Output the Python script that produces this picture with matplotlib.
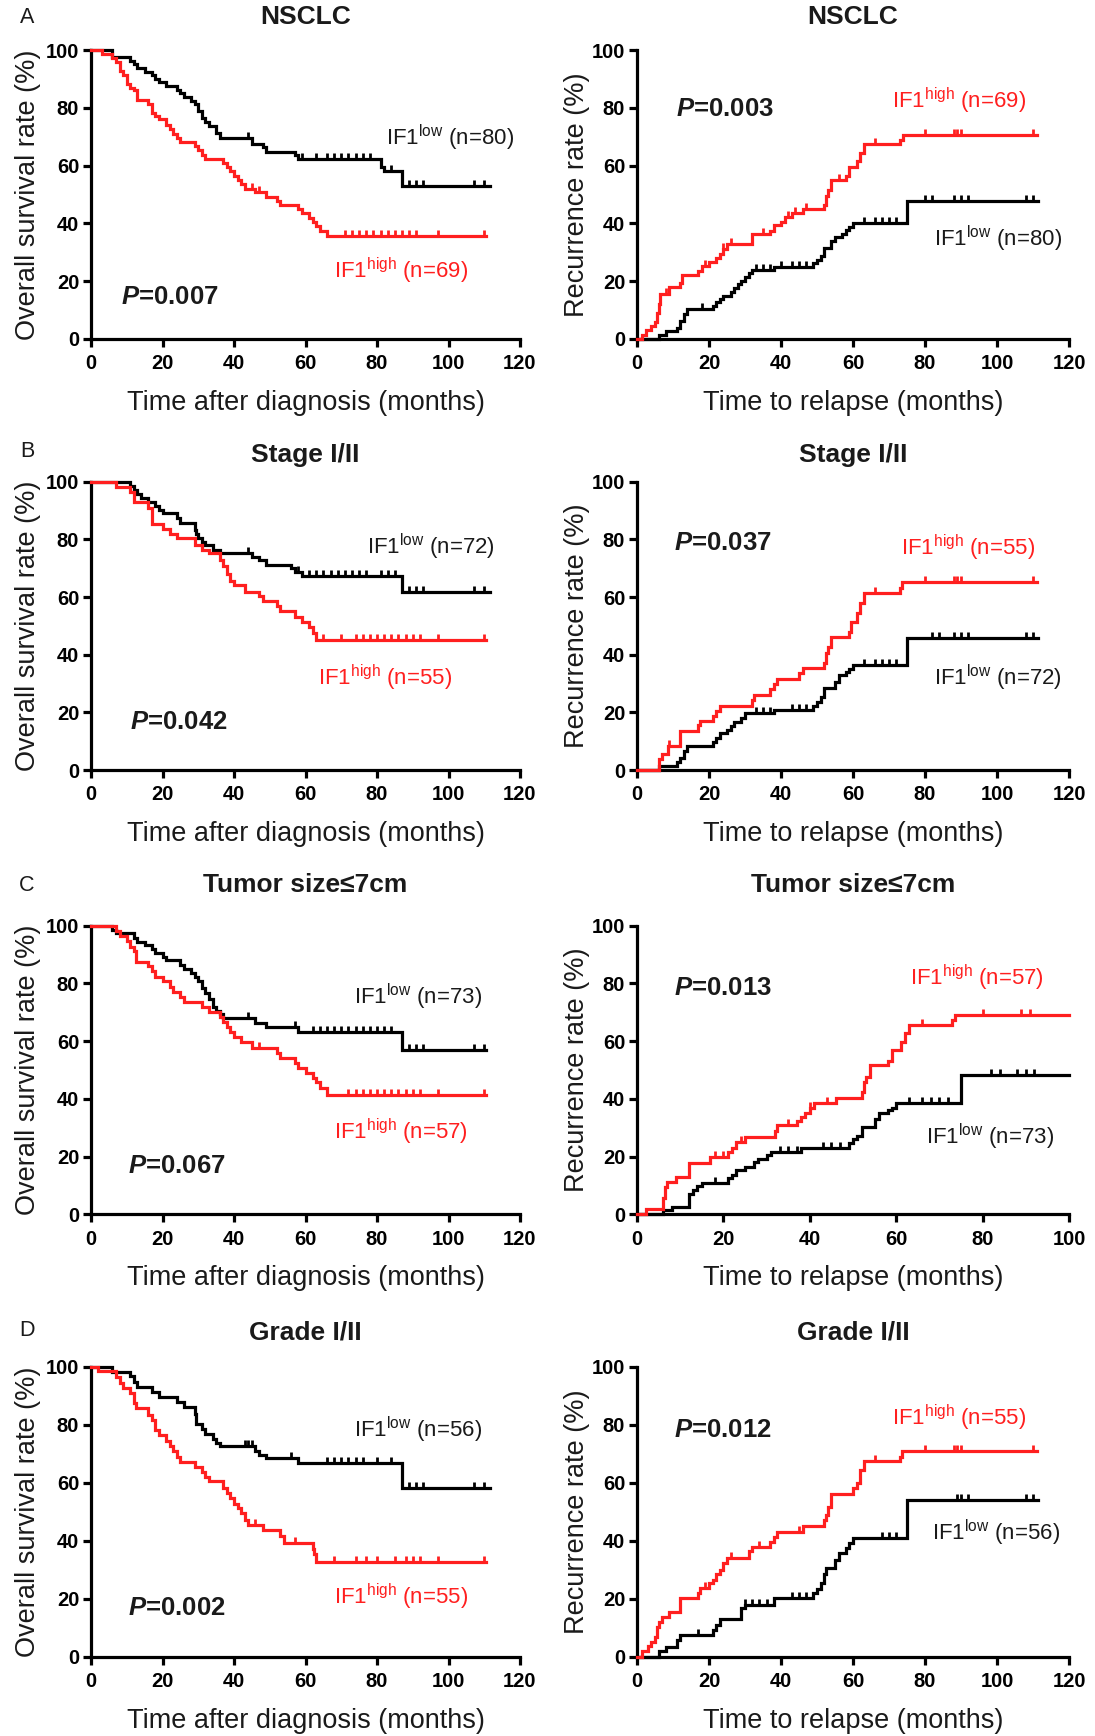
import numpy as np
import matplotlib
matplotlib.use('Agg')
import matplotlib.pyplot as plt

# ---------------- data ----------------
# Row A: NSCLC
A_os_low_t = [6, 11, 12, 13, 15, 17, 18, 19, 21, 24, 25, 26, 28, 29, 30, 31, 32, 33, 35, 36, 45, 48, 49, 57, 58, 81, 82, 87]
A_os_low_v = [97.5, 96.3, 95, 93.8, 92.5, 91.3, 90, 88.8, 87.5, 86.3, 85, 83.8, 82.5, 81.3, 78.8, 76.3, 75, 73.8, 71.3, 69.5, 67.5, 66.3, 64.8, 63.8, 62.2, 59.5, 58, 53]
A_os_low_c = [44, 59, 63, 66, 68, 70, 72, 74, 76, 78, 84, 89, 91, 93, 107, 110]
A_os_low_end = 111.5
A_os_high_t = [3, 6, 7, 8, 9, 10, 11, 12, 13, 16, 17, 18, 19, 21, 22, 23, 24, 25, 29, 30, 31, 32, 37, 38, 39, 40, 41, 42, 43, 46, 49, 52, 53, 58, 59, 61, 62, 63, 64, 66]
A_os_high_v = [98.6, 97.1, 95.7, 92.8, 91.3, 88.4, 87, 86, 82.6, 81.2, 78.3, 77, 76, 74.2, 72.5, 71, 69.6, 68, 66.7, 65.5, 63.8, 62.3, 61, 59.4, 58, 56.5, 55, 53.5, 52, 50.7, 49.3, 47.8, 46.4, 45, 43.5, 42, 40.6, 39, 37.5, 35.5]
A_os_high_c = [45, 47, 71, 73, 75, 77, 79, 81, 83, 85, 87, 89, 91, 97, 110]
A_os_high_end = 110.5

A_rec_high_t = [1.5, 2.5, 4, 5, 5.5, 6, 6.5, 9, 12, 12.5, 17, 18, 20, 22, 23, 24, 25, 32, 37, 38, 40, 41, 43, 46, 52, 52.5, 53, 54, 58, 59, 61, 62, 63, 73, 74]
A_rec_high_v = [1.5, 3, 4.5, 6, 9, 12, 15.5, 18, 19.5, 22, 23.6, 25.4, 26.5, 28, 29.5, 31, 33, 36.3, 37.5, 39.5, 40.5, 42.3, 43.5, 45, 46.5, 49.5, 51.5, 55, 56.5, 59.5, 61.5, 64.5, 67.5, 69, 70.5]
A_rec_high_c = [8, 19, 24, 26, 35, 42, 44, 47, 56, 66, 80, 88, 89, 90, 110]
A_rec_high_end = 111
A_rec_low_t = [6, 8, 11, 12, 13, 14, 21, 22, 23, 24, 26, 27, 28, 29, 30, 31, 32, 38, 49, 50, 51, 52, 54, 55, 57, 58, 59, 60, 75]
A_rec_low_v = [1.3, 2.7, 3.8, 6.3, 8.7, 10.4, 11.5, 12.7, 13.8, 15, 16.3, 17.8, 19, 20.2, 21.5, 22.7, 23.9, 25, 26.3, 27.5, 28.8, 31.5, 33.8, 35.4, 36.5, 37.7, 38.9, 40, 47.9]
A_rec_low_c = [18, 33, 35, 37, 40, 43, 45, 47, 63, 66, 68, 70, 72, 80, 82, 88, 90, 92, 108, 110]
A_rec_low_end = 111.5

# Row B: Stage I/II
B_os_low_t = [11, 12, 13, 14, 16, 18, 19, 20, 24, 25, 29, 29.5, 30, 31, 32, 34, 36, 45, 47, 49, 56, 57, 59, 87]
B_os_low_v = [98.6, 97.2, 95.8, 94.4, 93, 91.7, 90.3, 89, 87.5, 85.8, 83.3, 81.9, 80.5, 79.2, 78, 76.4, 75.3, 74, 72.8, 71.1, 70, 68.8, 67.4, 61.6]
B_os_low_c = [44, 58, 61, 63, 65, 67, 69, 71, 73, 75, 77, 81, 83, 85, 89, 91, 93, 107, 110]
B_os_low_end = 111.5
B_os_high_t = [7, 11, 12, 16, 17, 20, 22, 24, 29, 31, 33, 36, 37, 38, 39, 40, 43, 47, 48, 52, 53, 57, 59, 61, 62, 63]
B_os_high_v = [98.2, 96.4, 93, 90.9, 85.5, 83.6, 81.8, 80.3, 78.2, 76.4, 75.1, 72.7, 70.9, 67.9, 65.5, 64, 61.8, 60.5, 58.5, 57, 55, 53.2, 51.5, 49.7, 47.5, 45]
B_os_high_c = [65, 70, 74, 76, 78, 80, 82, 84, 86, 88, 90, 92, 97, 110]
B_os_high_end = 110.5

B_rec_high_t = [6, 7, 8.5, 12, 17, 17.5, 21, 22, 23, 32, 32.5, 37, 38, 39, 45, 46, 52, 52.5, 53, 54, 59, 59.5, 61, 62, 63, 73, 73.5]
B_rec_high_v = [3.8, 5.6, 8.3, 13.5, 15.5, 17, 18.7, 20.4, 22.3, 24.2, 26, 28, 29.8, 31.7, 33.5, 35.3, 37.2, 40.7, 42.5, 46.2, 48, 51.5, 54.5, 58, 61.3, 63.3, 65.2]
B_rec_high_c = [9, 66, 80, 88, 89, 90, 110]
B_rec_high_end = 111
B_rec_low_t = [6, 11, 12, 13, 14, 21, 22, 23, 25, 26, 27, 29, 30, 38, 49, 50, 51, 52, 55, 56, 58, 59, 60, 75]
B_rec_low_v = [1.4, 2.8, 4.2, 6.5, 8.3, 9.7, 11.1, 12.7, 13.9, 15.3, 16.7, 18.1, 19.7, 20.8, 22.2, 23.6, 25.2, 28.3, 30.6, 32.9, 34, 35.2, 36.4, 45.8]
B_rec_low_c = [33, 35, 37, 43, 45, 47, 63, 66, 68, 70, 72, 82, 84, 88, 90, 92, 108, 110]
B_rec_low_end = 111.5

# Row C: Tumor size <=7cm
C_os_low_t = [6, 7, 12, 13, 15, 17, 18, 20, 21, 25, 26, 28, 29, 30, 31, 32, 33, 34, 35, 36, 37, 46, 49, 58, 87]
C_os_low_v = [98.6, 97.3, 95.9, 94.5, 93.2, 91.8, 90.4, 89, 88, 86.3, 84.9, 83.5, 82.2, 80.8, 78.5, 76.6, 74.5, 72, 70.5, 69.4, 67.9, 66.4, 65, 63.3, 56.9]
C_os_low_c = [44, 57, 62, 64, 66, 68, 70, 72, 74, 76, 78, 80, 82, 84, 89, 91, 93, 107, 110]
C_os_low_end = 110.5
C_os_high_t = [7, 8, 10, 11, 12, 12.5, 16, 17, 18, 20, 22, 23, 25, 26, 31, 33, 36, 37, 38, 39, 40, 42, 45, 52, 53, 57, 58, 60, 62, 63, 64, 66]
C_os_high_v = [98.2, 96.3, 94.7, 92.7, 91.2, 87.5, 86, 84.2, 82.3, 80.7, 78.9, 77.1, 75.4, 73.6, 71.9, 70.2, 68.4, 66.7, 64.9, 63.2, 61.5, 59.8, 57.5, 56, 54, 52.5, 50.6, 49, 47.4, 45.9, 43.9, 41.3]
C_os_high_c = [47, 72, 74, 76, 78, 80, 82, 84, 86, 88, 90, 92, 97, 110]
C_os_high_end = 110.5

C_rec_high_t = [2, 6, 6.5, 7, 9, 12, 17, 21, 22, 23, 25, 32, 32.5, 37, 38, 39, 40, 41, 46, 52, 52.5, 53, 54, 58, 59, 61, 62, 63, 73, 73.5]
C_rec_high_v = [1.8, 5.5, 9.6, 11.3, 13, 17.9, 20, 21.5, 23, 25, 26.9, 29, 31, 32.2, 33.8, 35.2, 36.7, 38.4, 40.2, 42.5, 46, 47.5, 51.7, 53.2, 56.9, 59.8, 62.7, 65.6, 67.3, 69]
C_rec_high_c = [18, 20, 24, 35, 40, 44, 66, 80, 89, 91]
C_rec_high_end = 100
C_rec_low_t = [6, 8, 12, 13, 14, 15, 21, 22, 23, 25, 27, 28, 30, 31, 38, 49, 50, 51, 52, 55, 56, 58, 59, 60, 75]
C_rec_low_v = [1.4, 2.7, 6.9, 8.4, 9.8, 10.7, 12.5, 13.7, 15.4, 16.4, 18.2, 19.2, 20.6, 21.7, 22.9, 24.7, 26, 27, 30.4, 32.9, 35, 36, 37, 38.5, 48.3]
C_rec_low_c = [18, 33, 35, 37, 43, 45, 47, 63, 66, 68, 70, 72, 82, 84, 88, 90, 92]
C_rec_low_end = 100

# Row D: Grade I/II
D_os_low_t = [6, 11, 12, 13, 17, 19, 24, 26, 29, 29.5, 31, 32, 34, 35, 36, 46, 47, 49, 58, 87]
D_os_low_v = [98.4, 96.8, 94.8, 93.1, 91.3, 89.6, 87.8, 86.2, 83.9, 80.3, 78.6, 76.8, 75, 73.8, 72.8, 71, 69.6, 68.5, 66.8, 58.2]
D_os_low_c = [43, 44, 45, 56, 66, 68, 70, 72, 74, 76, 80, 84, 89, 91, 93, 107, 110]
D_os_low_end = 111.5
D_os_high_t = [2, 7, 8, 9, 11, 12, 12.5, 16, 17, 18, 19, 21, 22, 23, 24, 25, 29, 31, 32, 33, 37, 38, 39, 40, 41, 42, 43, 44, 48, 53, 54, 62, 62.5, 63]
D_os_high_v = [98.5, 96.4, 94.5, 92.7, 91, 87.5, 85.8, 83.6, 81.8, 78.3, 76.4, 74.5, 72.7, 70.9, 69.1, 67.2, 65.5, 63.6, 62.2, 60.6, 58.2, 56.4, 54.8, 52.7, 51.2, 49.5, 47.3, 45.5, 43.8, 41.8, 39.2, 37.3, 35.3, 32.8]
D_os_high_c = [46, 57, 68, 74, 77, 80, 85, 88, 90, 92, 97, 110]
D_os_high_end = 110.5

D_rec_high_t = [1.5, 3, 4, 5, 5.5, 6, 7, 9, 12, 17, 17.5, 20, 21, 22, 23, 24, 25, 31, 32, 37, 38, 39, 46, 52, 52.5, 53, 54, 60, 61, 62, 63, 73, 73.5]
D_rec_high_v = [2, 3.6, 5.2, 6.9, 10.4, 12.1, 13.8, 15.6, 20.2, 22, 23.6, 25.3, 26.5, 28.5, 30, 32.5, 34, 36.4, 38, 39.7, 41.2, 43.2, 45.2, 47.3, 49, 51.8, 56.3, 58.2, 60, 64.5, 67.4, 69.1, 70.9]
D_rec_high_c = [19, 26, 34, 45, 66, 80, 88, 89, 90, 110]
D_rec_high_end = 111
D_rec_low_t = [6, 8, 11, 12, 21, 22, 23, 29, 30, 38, 49, 50, 51, 52, 52.5, 55, 56, 58, 59, 60, 75]
D_rec_low_v = [1.8, 3.5, 5.8, 7.5, 9.2, 11.1, 13.1, 16.7, 17.9, 20.2, 21.9, 23.2, 25.3, 28.6, 30.5, 33.4, 35.7, 37.5, 39.2, 40.9, 54.1]
D_rec_low_c = [17, 30, 32, 34, 36, 43, 45, 47, 68, 70, 72, 89, 90, 92, 108, 110]
D_rec_low_end = 111.5

row_titles = ['NSCLC', 'Stage I/II', 'Tumor size\u22647cm', 'Grade I/II']
row_letters = ['A', 'B', 'C', 'D']
n_low = [80, 72, 73, 56]
n_high = [69, 55, 57, 55]
p_os = ['0.007', '0.042', '0.067', '0.002']
p_rec = ['0.003', '0.037', '0.013', '0.012']
rec_xmax = [120, 120, 100, 120]
y_ticks = [0, 20, 40, 60, 80, 100]

# ---------------- style ----------------
RED = '#ff1f1f'
BLK = '#000000'
TXT = '#1a1a1a'
W, H = 1095, 1736
plt.rcParams['font.family'] = ['Liberation Sans', 'DejaVu Sans']
plt.rcParams['mathtext.fontset'] = 'custom'
plt.rcParams['mathtext.rm'] = 'Liberation Sans'
plt.rcParams['mathtext.it'] = 'Liberation Sans:italic:bold'
plt.rcParams['mathtext.bf'] = 'Liberation Sans:bold'

fig = plt.figure(figsize=(W / 100, H / 100), dpi=100)

CENSOR_MARK = [(0, -0.15), (0, 1)]  # short upward tick


def rect(l, t, r, b):
    return [l / W, 1 - b / H, (r - l) / W, (b - t) / H]


def step_value(times, vals, start, t):
    idx = np.searchsorted(np.asarray(times, float), t, side='right') - 1
    return start if idx < 0 else vals[idx]


def draw_curve(ax, times, vals, cens, end, start, color):
    x = [0] + list(times) + [end]
    y = [start] + list(vals) + [vals[-1]]
    ax.step(x, y, where='post', color=color, lw=2.3, clip_on=False, zorder=3,
            solid_joinstyle='miter')
    cy = [step_value(times, vals, start, c) for c in cens]
    ax.plot(cens, cy, ls='none', marker=CENSOR_MARK, ms=9, mew=2.0, color=color,
            clip_on=False, zorder=3)


def style_axes(ax, xmax, ylabel, xlabel, h_px):
    ax.set_xlim(0, xmax)
    ax.set_ylim(0, 100)
    ax.set_xticks(np.arange(0, xmax + 1, 20))
    ax.set_yticks(y_ticks)
    for s in ['top', 'right']:
        ax.spines[s].set_visible(False)
    for s in ['left', 'bottom']:
        ax.spines[s].set_linewidth(2.3)
    ax.tick_params(axis='both', direction='out', length=6, width=2.3, labelsize=14.5)
    ax.tick_params(axis='y', pad=2.5)
    ax.tick_params(axis='x', pad=5)
    for lab in ax.get_xticklabels() + ax.get_yticklabels():
        lab.set_fontweight('bold')
    ax.set_xlabel(xlabel, fontsize=19.5, color=TXT, va='center')
    ax.xaxis.set_label_coords(0.5, -64 / h_px)
    ax.set_ylabel(ylabel, fontsize=19.5, color=TXT, va='center')


rows = [
    dict(top=50, bot=339, t_y=17, l_y=17.5,
         os=((A_os_low_t, A_os_low_v, A_os_low_c, A_os_low_end), (A_os_high_t, A_os_high_v, A_os_high_c, A_os_high_end)),
         rec=((A_rec_low_t, A_rec_low_v, A_rec_low_c, A_rec_low_end), (A_rec_high_t, A_rec_high_v, A_rec_high_c, A_rec_high_end)),
         os_txt=((82.5, 69.6), (67.9, 23.4), (8.4, 14.7)),
         rec_txt=((82.5, 34.6), (70.9, 82.5), (10.8, 79.6))),
    dict(top=481.7, bot=770, t_y=455, l_y=452,
         os=((B_os_low_t, B_os_low_v, B_os_low_c, B_os_low_end), (B_os_high_t, B_os_high_v, B_os_high_c, B_os_high_end)),
         rec=((B_rec_low_t, B_rec_low_v, B_rec_low_c, B_rec_low_end), (B_rec_high_t, B_rec_high_v, B_rec_high_c, B_rec_high_end)),
         os_txt=((77.3, 77.5), (63.5, 31.8), (10.9, 16.8)),
         rec_txt=((82.5, 31.8), (73.3, 76.9), (10.3, 78.6))),
    dict(top=925.7, bot=1214.3, t_y=885, l_y=885,
         os=((C_os_low_t, C_os_low_v, C_os_low_c, C_os_low_end), (C_os_high_t, C_os_high_v, C_os_high_c, C_os_high_end)),
         rec=((C_rec_low_t, C_rec_low_v, C_rec_low_c, C_rec_low_end), (C_rec_high_t, C_rec_high_v, C_rec_high_c, C_rec_high_end)),
         os_txt=((73.7, 75.4), (67.9, 28.6), (10.4, 16.7)),
         rec_txt=((67.0, 26.9), (63.3, 81.8), (8.6, 78.5))),
    dict(top=1367, bot=1656.7, t_y=1332, l_y=1330,
         os=((D_os_low_t, D_os_low_v, D_os_low_c, D_os_low_end), (D_os_high_t, D_os_high_v, D_os_high_c, D_os_high_end)),
         rec=((D_rec_low_t, D_rec_low_v, D_rec_low_c, D_rec_low_end), (D_rec_high_t, D_rec_high_v, D_rec_high_c, D_rec_high_end)),
         os_txt=((73.7, 78.3), (67.9, 20.7), (10.4, 16.7)),
         rec_txt=((82.0, 42.6), (70.9, 82.4), (10.4, 78.3))),
]

cols = [
    dict(left=91, right=520, key='os', start=100, xlabel='Time after diagnosis (months)',
         ylabel='Overall survival rate (%)', ylab_off=63),
    dict(left=637, right=1069, key='rec', start=0, xlabel='Time to relapse (months)',
         ylabel='Recurrence rate (%)', ylab_off=60),
]

for i, row in enumerate(rows):
    h_px = row['bot'] - row['top']
    fig.text(27 / W, 1 - row['l_y'] / H, row_letters[i], fontsize=15.5, color=TXT,
             ha='center', va='center')
    for j, col in enumerate(cols):
        ax = fig.add_axes(rect(col['left'], row['top'], col['right'], row['bot']))
        xmax = 120 if j == 0 else rec_xmax[i]
        style_axes(ax, xmax, col['ylabel'], col['xlabel'], h_px)
        ax.yaxis.set_label_coords(-col['ylab_off'] / (col['right'] - col['left']), 0.5)
        ax.set_title(row_titles[i], fontsize=19, fontweight='bold', color=TXT,
                     y=1 + (row['top'] - row['t_y']) / h_px, va='center', pad=0)
        low, high = row[col['key']]
        draw_curve(ax, *low, col['start'], BLK)
        draw_curve(ax, *high, col['start'], RED)
        (lx, ly), (hx, hy), (px, py) = row[col['key'] + '_txt']
        ax.text(lx, ly, 'IF1$^{\\mathrm{low}}$ (n=%d)' % n_low[i], fontsize=16,
                color=TXT, ha='left', va='center', clip_on=False)
        ax.text(hx, hy, 'IF1$^{\\mathrm{high}}$ (n=%d)' % n_high[i], fontsize=16,
                color=RED, ha='left', va='center', clip_on=False)
        pv = p_os[i] if j == 0 else p_rec[i]
        ax.text(px, py, '$P$=' + pv, fontsize=18.5, fontweight='bold', color=TXT,
                ha='left', va='center', clip_on=False)

fig.savefig('out.png', dpi=100)
